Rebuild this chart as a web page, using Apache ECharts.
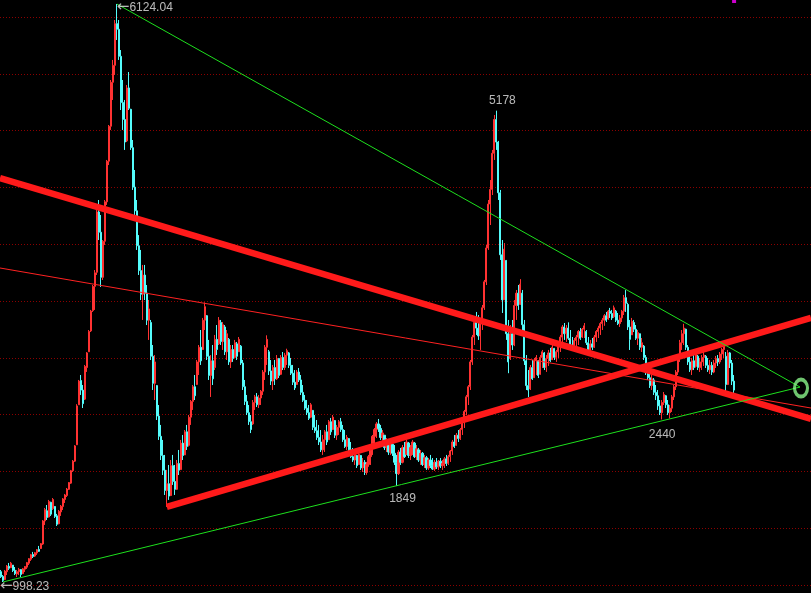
<!DOCTYPE html>
<html>
<head>
<meta charset="utf-8">
<script src="https://cdn.jsdelivr.net/npm/echarts@6/dist/echarts.min.js"></script>
<style>
  html, body { margin: 0; padding: 0; background: #000; }
  #chart { width: 811px; height: 593px; }
</style>
</head>
<body>
<div id="chart"></div>
<script>
// Shanghai Composite, two-week candles, rows are [open, close, low, high]
const rally0507 = [
  [1090,1045,1034,1105],[1048,1012,998.23,1060],[1020,1095,1016,1105],[1090,1140,1060,1149],
  [1138,1120,1105,1167],[1125,1165,1123,1176],[1148,1100,1087,1149],[1102,1072,1060,1131],
  [1070,1090,1042,1105],[1090,1110,1060,1123],[1108,1065,1042,1112],[1072,1115,1069,1123],
  [1112,1135,1087,1140],[1130,1170,1114,1176],[1165,1205,1149,1211],[1200,1240,1185,1247],
  [1242,1225,1211,1265],[1228,1258,1220,1265],[1255,1285,1238,1291],[1288,1270,1265,1318],
  [1295,1338,1291,1344],[1335,1540,1327,1548],[1540,1640,1504,1655],[1630,1570,1548,1681],
  [1575,1712,1570,1726],[1705,1600,1584,1710],[1650,1730,1637,1743],[1668,1580,1566,1672],
  [1585,1510,1495,1602],[1515,1625,1510,1637],[1620,1670,1584,1681],[1668,1735,1637,1743],
  [1730,1770,1699,1779],[1765,1822,1752,1832],[1820,1880,1814,1885],[1875,1985,1868,1992],
  [1985,2070,1974,2080],[2070,2205,2063,2213],[2215,2560,2213,2575],[2570,2780,2568,2790],
  [2785,2700,2657,2834],[2700,2580,2541,2745],[2620,2910,2612,2923],[2900,3030,2861,3038],
  [3040,3220,3038,3233],[3225,3400,3215,3411],[3405,3620,3393,3632],[3620,3740,3411,3765],
  [3745,4280,3721,4297],[4280,4100,4031,4386],[4100,3700,3615,4253],[3700,4020,3677,4031],
  [4020,4370,3987,4386],[4370,4730,4342,4741],[4730,5040,4696,5051],[5040,5430,5007,5450],
  [5430,5580,5273,5628],[5580,5950,5495,5982],[5950,5900,5805,6124.04]
];
const crash0708 = [
  [5900,5660,5628,5982],[5660,5250,5184,5716],[5250,5100,5007,5450],[5100,4900,4830,5273],
  [4910,5380,4900,5406],[5380,5200,5184,5521],[5190,4850,4830,5195],[4850,4500,4475,4918],
  [4500,4290,4253,4652],[4290,3980,3943,4386],[3980,3760,3721,4075],[3760,3550,3499,3943],
  [3550,3720,3322,3810],[3720,3560,3499,3810],[3560,3320,3277,3632],[3320,3420,3145,3499],
  [3300,3000,2967,3322],[3000,2760,2701,3100],[2760,2950,2612,3011],[2740,2470,2435,2745],
  [2470,2290,2258,2568],[2290,2120,2080,2391],[2120,1990,1947,2258],[1990,1810,1770,2125],
  [1810,1870,1664,1992]
];
const rebound09 = [
  [1870,1760,1726,2036],[1765,2030,1760,2080],[2030,1890,1859,2125],[1890,1820,1770,2036],
  [1820,2050,1814,2080],[2050,1990,1947,2169],[1995,2230,1992,2258],[2230,2120,2080,2302],
  [2125,2330,2125,2346],[2330,2200,2169,2391],[2210,2460,2200,2479],[2460,2600,2391,2612],
  [2600,2730,2524,2745],[2730,2650,2612,2834],[2750,2950,2745,2967],[2950,3080,2834,3100],
  [3080,2960,2923,3233],[3060,3320,3056,3340],[3320,3440,3233,3478.01],[3360,3000,2967,3366],
  [3000,2830,2790,3145],[2830,2960,2639,3011],[2960,2800,2745,3100],[2900,3150,2878,3189],
  [3150,3060,3011,3277],[3110,3320,3100,3348],[3300,3130,3100,3322],[3130,3280,3056,3304],
  [3260,3040,3011,3277],[3040,3200,2967,3233],[3150,2950,2923,3162],[2950,3060,2896,3100],
  [3060,2980,2950,3100],[2990,3120,2985,3145],[3110,3000,2967,3127],[3040,3150,3038,3171],
  [3090,2940,2923,3100],[2940,2730,2701,2967],[2730,2600,2568,2790],[2600,2500,2479,2657],
  [2500,2420,2391,2568],[2420,2350,2319,2479]
];
const drift1013 = [
  [2400,2590,2391,2612],[2590,2640,2524,2657],[2640,2570,2550,2674],[2570,2630,2541,2657],
  [2630,2690,2568,2701],[2690,2860,2657,2878],[2860,3080,2790,3100],[3080,3150,2923,3186],
  [3040,2870,2834,3056],[2870,2780,2745,2967],[2780,2900,2701,2923],[2900,2800,2745,2967],
  [2800,2980,2790,3011],[2980,2830,2807,2985],[2840,2990,2834,3011],[2990,2900,2878,3038],
  [2900,3010,2878,3030],[3010,3050,2923,3067],[3030,2920,2896,3038],[2920,2850,2834,2985],
  [2850,2770,2745,2923],[2770,2720,2701,2878],[2750,2860,2745,2878],[2860,2790,2772,2896],
  [2790,2680,2657,2834],[2680,2610,2595,2745],[2610,2540,2524,2657],[2540,2500,2479,2612],
  [2500,2450,2435,2568],[2460,2570,2453,2586],[2520,2370,2346,2524],[2370,2340,2320,2479],
  [2340,2280,2258,2435],[2280,2240,2213,2391],[2240,2170,2151,2346],[2170,2260,2125,2302],
  [2260,2330,2151,2346],[2330,2240,2213,2391],[2260,2420,2258,2435],[2420,2330,2302,2453],
  [2350,2460,2346,2479],[2430,2300,2275,2435],[2300,2370,2258,2391],[2370,2420,2302,2435],
  [2420,2350,2329,2453],[2350,2260,2240,2391],[2260,2200,2187,2346],[2200,2280,2169,2302],
  [2270,2170,2151,2275],[2170,2110,2098,2240],[2110,2080,2063,2187],[2080,2140,2036,2169],
  [2120,2030,2009,2125],[2040,2130,2036,2151],[2120,2010,1992,2125],[2010,2060,1974,2098],
  [2060,1970,1947,2080],[1970,2040,1949,2063],[2040,2110,2020,2125],[2110,2200,2036,2213],
  [2200,2290,2125,2302],[2290,2350,2213,2364],[2350,2400,2275,2417],[2400,2360,2329,2444],
  [2360,2280,2258,2391],[2280,2320,2213,2346],[2300,2190,2169,2302],[2190,2250,2151,2275],
  [2250,2150,2125,2258],[2150,2220,2125,2240],[2220,2140,2116,2258],[2140,2060,2036,2213],
  [2060,1960,1849,2125]
];
const base1314 = [
  [1960,2150,1947,2169],[2150,2060,2036,2187],[2060,2190,2050,2213],[2190,2110,2098,2240],
  [2130,2240,2125,2258],[2230,2120,2098,2240],[2120,2190,2080,2213],[2190,2240,2125,2258],
  [2230,2110,2098,2240],[2110,2180,2080,2213],[2170,2080,2063,2187],[2080,2140,2036,2169],
  [2140,2040,2027,2151],[2040,2100,2009,2125],[2100,2010,1992,2116],[2010,2080,1992,2098],
  [2080,2030,2009,2125],[2030,2000,1992,2098],[2000,2060,1983,2080],[2060,2020,2000,2098],
  [2020,2070,1992,2080],[2070,2030,2009,2098],[2030,2050,1992,2080],[2050,2090,2009,2107],
  [2090,2050,2027,2125],[2050,2110,2036,2125],[2110,2160,2063,2169],[2160,2240,2125,2258],
  [2240,2200,2187,2302],[2210,2300,2205,2320],[2300,2270,2240,2346],[2270,2350,2258,2364],
  [2350,2420,2302,2435],[2420,2510,2364,2524]
];
const bubble15 = [
  [2510,2640,2479,2657],[2640,2730,2568,2745],[2730,2950,2701,2967],[2950,3170,2923,3189],
  [3170,3300,3100,3340],[3300,3250,3189,3393],[3250,3180,3145,3366],[3180,3300,3056,3322],
  [3300,3430,3233,3455],[3430,3660,3411,3677],[3660,3960,3632,3987],[3960,4350,3943,4386],
  [4350,4480,4164,4563],[4480,4800,4430,4830],[4800,5100,4741,5140],[5100,4900,4830,5178],
  [4900,4450,4386,4910],[4450,3900,3854,4475],[3900,3500,3384,4031],[3500,3950,3499,4004],
  [3850,3200,3145,3854],[3200,2950,2850,3322],[2980,3200,2967,3277],[3200,3100,3056,3322],
  [3100,3450,3090,3499],[3450,3560,3322,3588],[3560,3450,3411,3632],[3460,3640,3455,3684],
  [3560,3280,3233,3588],[3280,2960,2923,3322],[2960,2740,2701,3011],[2740,2700,2638,2878]
];
const range1618 = [
  [2710,2900,2701,2923],[2900,2800,2790,2967],[2810,2960,2807,2985],[2960,2990,2834,3011],
  [2960,2830,2807,2967],[2840,2990,2835,3011],[2990,3040,2896,3056],[3030,2900,2878,3038],
  [2900,2980,2861,3011],[2980,3030,2914,3056],[3030,2960,2950,3074],[2970,3080,2967,3100],
  [3070,2990,2967,3074],[2990,3040,2950,3056],[3040,3090,2985,3100],[3090,3170,3038,3189],
  [3170,3260,3100,3277],[3260,3200,3145,3295],[3200,3250,3127,3277],[3250,3160,3145,3301],
  [3160,3100,3074,3233],[3100,3080,3056,3171],[3080,3140,3056,3162],[3140,3170,3074,3189],
  [3170,3220,3100,3233],[3220,3160,3145,3251],[3170,3240,3162,3251],[3240,3270,3162,3295],
  [3220,3120,3100,3233],[3120,3040,3016,3171],[3040,3110,3030,3145],[3110,3080,3056,3162],
  [3080,3170,3074,3189],[3170,3220,3127,3233],[3220,3250,3162,3270],[3250,3290,3189,3304],
  [3290,3320,3233,3340],[3320,3360,3270,3375],[3360,3320,3304,3393],[3330,3400,3322,3411],
  [3400,3380,3340,3429],[3380,3340,3322,3411],[3350,3430,3340,3450],[3400,3320,3304,3411],
  [3320,3290,3277,3384],[3290,3340,3260,3366],[3340,3400,3304,3411],[3400,3520,3366,3544],
  [3520,3470,3393,3587],[3460,3260,3233,3475],[3260,3150,3056,3322],[3190,3310,3189,3340],
  [3300,3240,3215,3322],[3240,3160,3145,3277],[3160,3210,3100,3233],[3200,3080,3056,3189],
  [3080,3120,3038,3162],[3090,2990,2967,3100],[2990,2860,2834,3011],[2860,2810,2790,2923],
  [2810,2740,2719,2878],[2740,2800,2701,2834],[2790,2680,2657,2807],[2680,2650,2612,2745],
  [2650,2560,2524,2701],[2560,2500,2479,2612],[2500,2590,2440,2612]
];
const recent1920 = [
  [2590,2660,2568,2683],[2650,2570,2541,2657],[2570,2500,2479,2612],[2500,2540,2449,2568],
  [2540,2640,2506,2657],[2640,2730,2612,2745],[2730,2860,2701,2878],[2860,2990,2834,3011],
  [2990,3120,2950,3145],[3120,3200,3056,3233],[3200,3250,3100,3288],[3240,3080,3056,3245],
  [3080,2950,2923,3100],[2950,2880,2861,3011],[2880,2960,2834,2985],[2960,2900,2878,3011],
  [2910,3030,2900,3056],[3000,2900,2878,3011],[2900,2950,2861,2985],[2950,2990,2878,3011],
  [2990,3010,2914,3038],[3000,2920,2896,3011],[2920,2880,2861,2985],[2880,2920,2843,2967],
  [2920,2860,2834,2950],[2860,2940,2850,2967],[2940,2980,2896,3003],[2980,2950,2914,3011],
  [2950,3020,2932,3038],[3020,3060,2967,3074],[3060,3090,2985,3127],[3000,2750,2685,3038],
  [2750,3030,2745,3056],[3030,2940,2896,3038],[2940,2780,2745,2967],[2780,2700,2646,2834]
];

// Price extremes that carry a text tag
const taggedHighs = [6124.04, 5178];
const taggedLows = [998.23, 1849, 2440];

// Hand-drawn guide lines, as [slot, price] end points
const channelApex = [400, 2727];
const fallingBand = [[-0.5, 4581], [405.5, 2444]];
const fallingThin = [[-0.5, 3783], [405.5, 2541]];
const risingBandEnd = [405.5, 3340];

// Panel layout: slot count (including the empty future slots) and price range
const SLOT_COUNT = 406;
const PRICE_MIN = 971.6;
const PRICE_MAX = 6159.6;
const GRID_ROWS = 10.3;

const candles = [].concat(rally0507, crash0708, rebound09, drift1013,
                          base1314, bubble15, range1618, recent1920);
const slots = Array.from({ length: SLOT_COUNT }, (_, i) => 'W' + i);

const highIndex = v => candles.findIndex(c => c[3] === v);
const lowIndex = v => candles.findIndex(c => c[2] === v);

const TEXT = '#e6e6e6';
const FONT = 'Liberation Sans, Arial, sans-serif';
const richText = {
  a: { fontFamily: 'DejaVu Sans', fontSize: 15, color: TEXT, padding: [0, 0, 2, 0] },
  n: { fontFamily: FONT, fontSize: 12, color: TEXT }
};

function tag(idx, price, text, align, offset) {
  return {
    value: [idx, price],
    label: {
      show: true, position: 'inside', formatter: text,
      align: align, verticalAlign: 'middle', offset: offset,
      color: TEXT, fontSize: 12, fontFamily: FONT, rich: richText
    }
  };
}

const peakIdx = highIndex(taggedHighs[0]);
const bottomIdx = lowIndex(taggedLows[0]);
const crisisLow = Math.min(...crash0708.map(c => c[2]));
const crisisIdx = lowIndex(crisisLow);

const tags = [
  tag(peakIdx, taggedHighs[0], '{a|←}{n|' + taggedHighs[0].toFixed(2) + '}', 'left', [0, 4]),
  tag(highIndex(taggedHighs[1]), taggedHighs[1], '{n|' + taggedHighs[1] + '}', 'center', [6, -10]),
  tag(bottomIdx, taggedLows[0], '{a|←}{n|' + taggedLows[0].toFixed(2) + '}', 'left', [-3, 5]),
  tag(lowIndex(taggedLows[1]), taggedLows[1], '{n|' + taggedLows[1] + '}', 'center', [6, 13]),
  tag(lowIndex(taggedLows[2]), taggedLows[2], '{n|' + taggedLows[2] + '}', 'center', [0, 15.5])
];

function guide(points, color, width) {
  return {
    type: 'line', xAxisIndex: 1, yAxisIndex: 0, data: points,
    showSymbol: false, silent: true, z: 4,
    lineStyle: { color: color, width: width }
  };
}

// stretchable ellipse outline for the apex ring
const RING = 'path://M0,10 A10,10 0 1,1 20,10 A10,10 0 1,1 0,10 Z';

const chart = echarts.init(document.getElementById('chart'));
chart.setOption({
  backgroundColor: '#000',
  animation: false,
  grid: { left: 0, right: 0, top: 0, bottom: 8 },
  xAxis: [
    { type: 'category', data: slots, boundaryGap: true, show: false },
    { type: 'value', min: -0.5, max: SLOT_COUNT - 0.5, show: false }
  ],
  yAxis: [
    { type: 'value', min: PRICE_MIN, max: PRICE_MAX, show: false },
    {
      type: 'value', min: 0, max: GRID_ROWS, interval: 1,
      axisLine: { show: false }, axisTick: { show: false }, axisLabel: { show: false },
      splitLine: {
        show: true, showMaxLine: false,
        lineStyle: { color: '#8c0000', width: 1, type: [1, 2] }
      }
    }
  ],
  series: [
    {
      type: 'candlestick', xAxisIndex: 0, yAxisIndex: 0, data: candles,
      barWidth: 1.6, z: 2,
      itemStyle: {
        color: '#ff3232', borderColor: '#ff3232',
        color0: '#54fcfc', borderColor0: '#54fcfc', borderWidth: 1
      }
    },
    guide(fallingThin, '#ff2222', 1),
    guide(fallingBand, '#ff1a1a', 6.5),
    guide([[crisisIdx, crisisLow], risingBandEnd], '#ff1a1a', 6.5),
    guide([[peakIdx, taggedHighs[0]], channelApex], '#1ee01e', 1),
    guide([[bottomIdx, taggedLows[0]], channelApex], '#1ee01e', 1),
    {
      type: 'scatter', xAxisIndex: 1, yAxisIndex: 0, data: [channelApex],
      symbol: RING, symbolSize: [13, 17], symbolOffset: [1, 1], silent: true, z: 5,
      itemStyle: { color: 'rgba(0,0,0,0)', borderColor: '#8af58a', borderWidth: 3.5 }
    },
    {
      type: 'scatter', xAxisIndex: 0, yAxisIndex: 0,
      data: [[candles.length - 1, PRICE_MAX]],
      symbol: 'rect', symbolSize: [4, 3], symbolOffset: [0, 1.5], silent: true, z: 5,
      itemStyle: { color: '#ff00ff' }
    },
    {
      type: 'scatter', xAxisIndex: 0, yAxisIndex: 0, data: tags,
      symbolSize: 1, silent: true, z: 6,
      itemStyle: { color: 'rgba(0,0,0,0)' }
    }
  ]
});
</script>
</body>
</html>
